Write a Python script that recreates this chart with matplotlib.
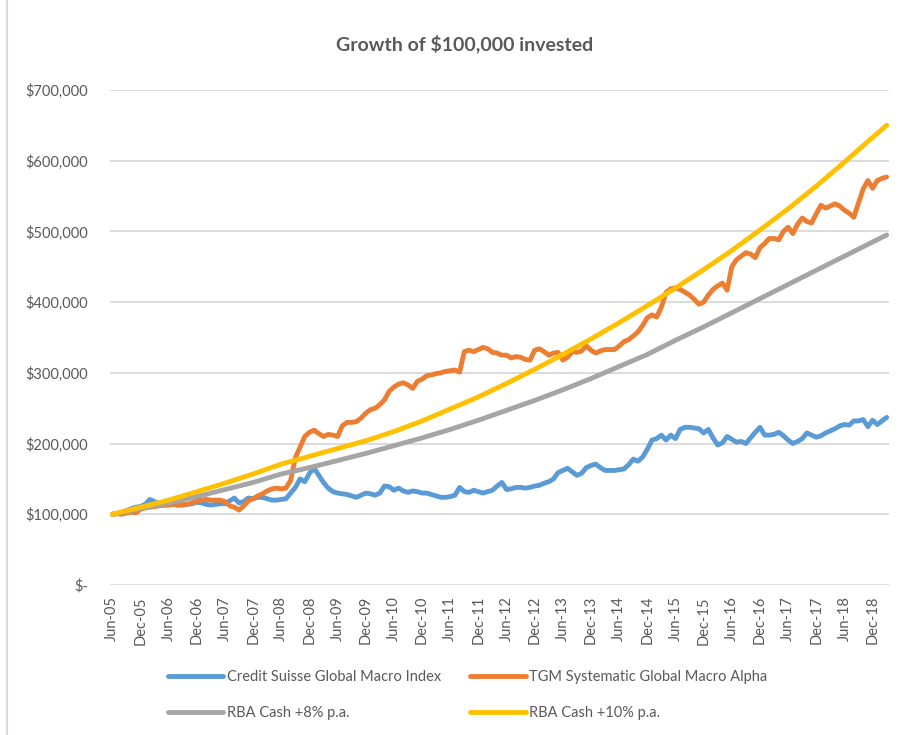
import matplotlib
matplotlib.use("Agg")
import matplotlib.pyplot as plt
from matplotlib.lines import Line2D
from matplotlib.ticker import FuncFormatter
import numpy as np

# monthly series, Jun-05 .. Mar-19, values in $000
credit_suisse = [
    100, 101, 103, 105, 108, 110, 111, 114, 121, 118, 115, 113, 114, 114, 113, 113, 114, 115, 117, 116,
    114, 113, 114, 115, 115, 119, 123, 116, 118, 123, 122, 124, 124, 122, 120, 120, 121, 122, 130, 138,
    150, 146, 158, 165, 155, 145, 137, 132, 130, 129, 128, 126, 124, 127, 130, 129, 127, 130, 140, 139,
    134, 137, 133, 131, 133, 132, 130, 130, 128, 126, 124, 124, 125, 127, 138, 132, 131, 134, 132, 130,
    132, 134, 140, 145, 135, 136, 138, 138, 137, 138, 140, 141, 144, 146, 150, 159, 162, 165, 160, 155,
    158, 166, 169, 171, 166, 162, 162, 162, 163, 164, 170, 178, 175, 181, 192, 205, 207, 212, 205, 212,
    207, 220, 223, 223, 222, 221, 215, 220, 208, 198, 201, 210, 206, 202, 203, 200, 208, 216, 223, 212,
    212, 213, 216, 211, 205, 200, 203, 207, 215, 212, 209, 211, 215, 218, 221, 225, 227, 226, 232, 232,
    234, 224, 233, 227, 232, 237,
]
tgm_alpha = [
    100, 101, 100, 102, 103, 102, 107, 109, 110, 111, 112, 113, 113, 114, 113, 114, 114, 116, 119, 120,
    121, 120, 120, 120, 118, 112, 110, 106, 112, 119, 122, 126, 129, 133, 136, 137, 136, 137, 148, 180,
    195, 210, 216, 219, 214, 210, 213, 212, 210, 225, 230, 230, 231, 236, 243, 248, 250, 255, 262, 274,
    280, 284, 286, 283, 278, 288, 291, 296, 297, 299, 300, 302, 303, 304, 301, 330, 332, 330, 333, 336,
    334, 329, 328, 325, 325, 321, 323, 322, 319, 318, 332, 334, 330, 325, 328, 329, 318, 322, 330, 329,
    331, 338, 332, 328, 331, 333, 333, 333, 338, 344, 347, 352, 358, 367, 378, 382, 379, 393, 414, 419,
    420, 418, 414, 410, 404, 397, 400, 410, 418, 423, 427, 417, 450, 460, 465, 470, 468, 463, 477, 483,
    490, 490, 488, 500, 506, 497, 510, 519, 514, 512, 525, 537, 533, 536, 539, 536, 530, 526, 520, 540,
    560, 572, 561, 572, 575, 577,
]

# benchmark curves read every six months (month index from Jun-05)
rba_months = [0, 6, 12, 18, 24, 30, 36, 42, 48, 54, 60, 66, 72, 78, 84, 90, 96, 102, 108, 114,
              120, 126, 132, 138, 144, 150, 156, 162, 165]
rba_8 = [100, 108, 116, 125, 135, 145, 157, 166, 176, 186, 197, 208, 220, 233, 247, 261, 276, 292, 309, 326,
         346, 365, 385, 405, 425, 445, 465, 485, 495]
rba_10 = [100, 110, 120, 132, 144, 157, 171, 182, 193, 204, 217, 232, 249, 266, 285, 305, 326, 348, 371, 395,
          420, 446, 473, 502, 532, 564, 598, 633, 650]

tick_labels = [
    "Jun-05", "Dec-05", "Jun-06", "Dec-06", "Jun-07", "Dec-07", "Jun-08", "Dec-08", "Jun-09", "Dec-09",
    "Jun-10", "Dec-10", "Jun-11", "Dec-11", "Jun-12", "Dec-12", "Jun-13", "Dec-13", "Jun-14", "Dec-14",
    "Jun-15", "Dec-15", "Jun-16", "Dec-16", "Jun-17", "Dec-17", "Jun-18", "Dec-18",
]

TEXT = "#595959"
GRID = "#D9D9D9"
plt.rcParams["font.family"] = ["Lato", "DejaVu Sans"]

fig = plt.figure(figsize=(9.17, 7.35), dpi=100)
ax = fig.add_axes([110 / 917, 1 - 585 / 735, 779 / 917, 495 / 735])

months = np.arange(len(credit_suisse))
style = dict(lw=3.5, solid_joinstyle="round", solid_capstyle="round")
cs_line, = ax.plot(months, np.array(credit_suisse) * 1000, color="#5B9BD5", zorder=3,
                   label="Credit Suisse Global Macro Index", **style)
tgm_line, = ax.plot(months, np.array(tgm_alpha) * 1000, color="#ED7D31", zorder=4,
                    label="TGM Systematic Global Macro Alpha", **style)
r8_line, = ax.plot(rba_months, np.array(rba_8) * 1000, color="#A5A5A5", zorder=5,
                   label="RBA Cash +8% p.a.", **style)
r10_line, = ax.plot(rba_months, np.array(rba_10) * 1000, color="#FFC000", zorder=6,
                    label="RBA Cash +10% p.a.", **style)

ax.set_xlim(-0.5, len(credit_suisse) - 0.5)
ax.set_ylim(0, 700000)
ax.set_yticks(np.arange(0, 700001, 100000))
ax.yaxis.set_major_formatter(FuncFormatter(lambda v, _: "$-" if v == 0 else f"${v:,.0f}"))
ax.set_xticks(np.arange(0, 6 * len(tick_labels), 6))
ax.set_xticklabels(tick_labels, rotation=90)
ax.tick_params(axis="both", length=0, labelsize=10.5, colors=TEXT)
ax.tick_params(axis="x", pad=8)
ax.tick_params(axis="y", pad=16)
ax.grid(axis="y", color=GRID, lw=1.3)
ax.set_axisbelow(True)
for side in ["top", "right", "left", "bottom"]:
    ax.spines[side].set_visible(False)

fig.text(0.507, 1 - 44 / 735, "Growth of $100,000 invested", ha="center", va="center",
         fontsize=14, fontweight="bold", color=TEXT)

# legend fills column by column, so order gives rows: CS/TGM, RBA8/RBA10
handles = [cs_line, r8_line, tgm_line, r10_line]
fig.legend(handles=handles, labels=[h.get_label() for h in handles],
           loc="upper left", bbox_to_anchor=(168 / 917, 1 - 670 / 735), ncol=2, frameon=False,
           fontsize=10.5, labelcolor=TEXT, handlelength=3.8, handletextpad=0.25,
           columnspacing=2.0, labelspacing=1.5, borderpad=0, borderaxespad=0)

# chart-area border on the left
fig.add_artist(Line2D([7 / 917, 7 / 917], [0, 1], color=GRID, lw=1.5))

fig.savefig("out.png", dpi=100)
